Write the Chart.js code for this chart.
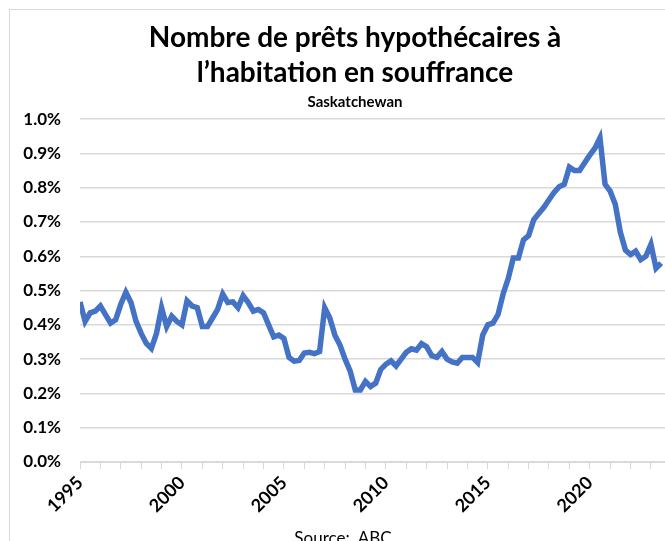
<!DOCTYPE html>
<html>
<head>
<meta charset="utf-8">
<script src="https://cdn.jsdelivr.net/npm/chart.js@4"></script>
<style>
  body { margin: 0; background: #fff; overflow: hidden; }
  #frame { position: absolute; left: 9px; top: 9px; width: 760px; height: 600px; border: 1px solid #d9d9d9; }
  #wrap { position: absolute; left: 0; top: 0; width: 710px; height: 541px; }
  #source { position: absolute; left: 0; width: 686px; top: 527px; text-align: center;
            font: 17px Lato, sans-serif; color: #000; }
</style>
</head>
<body>
<div id="frame"></div>
<div id="wrap"><canvas id="chart"></canvas></div>
<div id="source">Source:&nbsp; ABC</div>
<script>
// quarterly series, first point = 1995 Q1
const START_YEAR = 1995;
const PER_YEAR = 4;
const X_MAX = 2025.7; // plot runs on past the visible edge, like the cropped original
const arrears = [
  0.467, 0.410, 0.435, 0.440, 0.455, 0.430, 0.405, 0.415, 0.460, 0.495,
  0.465, 0.410, 0.375, 0.346, 0.331, 0.375, 0.450, 0.395, 0.425, 0.410,
  0.400, 0.470, 0.455, 0.450, 0.395, 0.395, 0.420, 0.445, 0.490, 0.465,
  0.467, 0.450, 0.485, 0.465, 0.440, 0.445, 0.435, 0.400, 0.365, 0.370,
  0.360, 0.305, 0.294, 0.296, 0.318, 0.320, 0.316, 0.322, 0.450, 0.420,
  0.370, 0.341, 0.300, 0.265, 0.210, 0.210, 0.235, 0.220, 0.230, 0.270,
  0.285, 0.295, 0.280, 0.300, 0.320, 0.330, 0.326, 0.345, 0.336, 0.310,
  0.305, 0.322, 0.300, 0.292, 0.288, 0.305, 0.305, 0.305, 0.290, 0.370,
  0.400, 0.405, 0.430, 0.490, 0.535, 0.595, 0.595, 0.648, 0.660, 0.706,
  0.725, 0.743, 0.765, 0.786, 0.803, 0.810, 0.860, 0.850, 0.850, 0.873,
  0.895, 0.915, 0.945, 0.810, 0.790, 0.752, 0.670, 0.618, 0.605, 0.615,
  0.590, 0.600, 0.635, 0.565, 0.580
];
const yTicks = [0, 0.1, 0.2, 0.3, 0.4, 0.5, 0.6, 0.7, 0.8, 0.9, 1.0];
const labelYears = [1995, 2000, 2005, 2010, 2015, 2020];

const points = arrears.map((v, i) => ({ x: START_YEAR + i / PER_YEAR, y: v }));

const FONT = 'Lato, "Open Sans", sans-serif';

new Chart(document.getElementById('chart'), {
  type: 'line',
  data: {
    datasets: [{
      data: points,
      borderColor: '#4472C4',
      borderWidth: 5.5,
      pointRadius: 0,
      tension: 0,
      fill: false
    }]
  },
  options: {
    responsive: true,
    maintainAspectRatio: false,
    animation: false,
    layout: { padding: 0 },
    plugins: {
      legend: { display: false },
      tooltip: { enabled: false },
      title: {
        display: true,
        text: ['Nombre de prêts hypothécaires à', 'l’habitation en souffrance'],
        color: '#000',
        font: { family: FONT, size: 28, weight: 'bold', lineHeight: 1.27 },
        padding: { top: 20, bottom: 2 }
      },
      subtitle: {
        display: true,
        text: 'Saskatchewan',
        color: '#000',
        font: { family: FONT, size: 15, weight: 'bold' },
        padding: { top: 0, bottom: 8 }
      }
    },
    scales: {
      x: {
        type: 'linear',
        min: START_YEAR,
        max: X_MAX,
        afterFit: s => { s.height = 79; },
        afterBuildTicks: s => {
          const t = [];
          for (let y = START_YEAR; y <= s.max; y++) t.push({ value: y });
          s.ticks = t;
        },
        ticks: {
          autoSkip: false,
          maxRotation: 45,
          minRotation: 45,
          padding: 3,
          color: '#000',
          font: { family: FONT, size: 18, weight: 'bold' },
          callback: v => labelYears.includes(v) ? String(v) : ''
        },
        grid: { drawOnChartArea: false, color: '#d9d9d9', tickLength: 7 },
        border: { display: true, color: '#d9d9d9', width: 1 }
      },
      y: {
        min: 0,
        max: 1.0,
        afterFit: s => { s.width = 80; },
        afterBuildTicks: s => { s.ticks = yTicks.map(v => ({ value: v })); },
        ticks: {
          padding: 19,
          color: '#000',
          font: { family: FONT, size: 17, weight: 'bold' },
          callback: v => v.toFixed(1) + '%'
        },
        grid: { color: '#d9d9d9', lineWidth: 1.5, drawTicks: false },
        border: { display: false }
      }
    }
  }
});
</script>
</body>
</html>
